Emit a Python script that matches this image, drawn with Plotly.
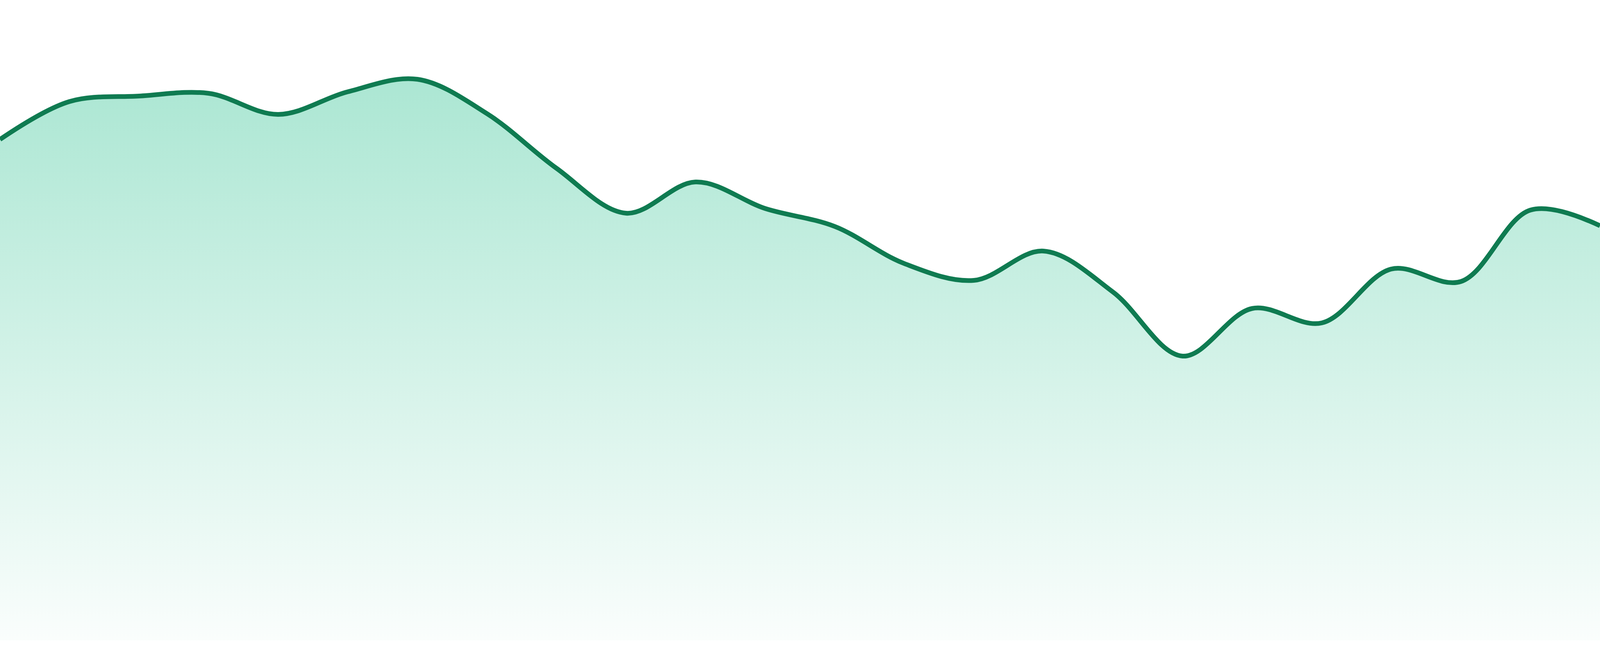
import plotly.graph_objects as go

# one point per step
steps = list(range(24))
values = [128.3, 138.0, 139.4, 140.1, 134.7, 140.5, 143.7, 134.9,
          120.9, 109.4, 117.4, 110.6, 106.0, 96.5, 92.2, 99.7,
          89.2, 72.8, 85.0, 81.3, 95.1, 91.9, 110.2, 106.2]

line_color = "#0f7b51"
fill_top = "rgba(16,185,129,0.35)"
fill_bottom = "rgba(16,185,129,0.02)"

fig = go.Figure()
fig.add_trace(go.Scatter(
    x=steps,
    y=values,
    mode="lines",
    line=dict(color=line_color, width=12, shape="spline", smoothing=1.0),
    fill="tozeroy",
    fillgradient=dict(type="vertical",
                      colorscale=[[0, fill_bottom], [1, fill_top]]),
    hoverinfo="skip",
))

fig.update_layout(
    autosize=True,
    margin=dict(l=0, r=0, t=0, b=0),
    paper_bgcolor="white",
    plot_bgcolor="white",
    showlegend=False,
    xaxis=dict(visible=False, range=[0, 23], fixedrange=True),
    yaxis=dict(visible=False, range=[-4, 164], fixedrange=True),
)

# fill the whole browser window
fig.write_html("out.html", config={"displayModeBar": False, "responsive": True},
               default_width="100vw", default_height="100vh",
               post_script="document.body.style.margin='0';"
                           "document.body.style.overflow='hidden';"
                           "Plotly.Plots.resize(document.getElementById('{plot_id}'));")
